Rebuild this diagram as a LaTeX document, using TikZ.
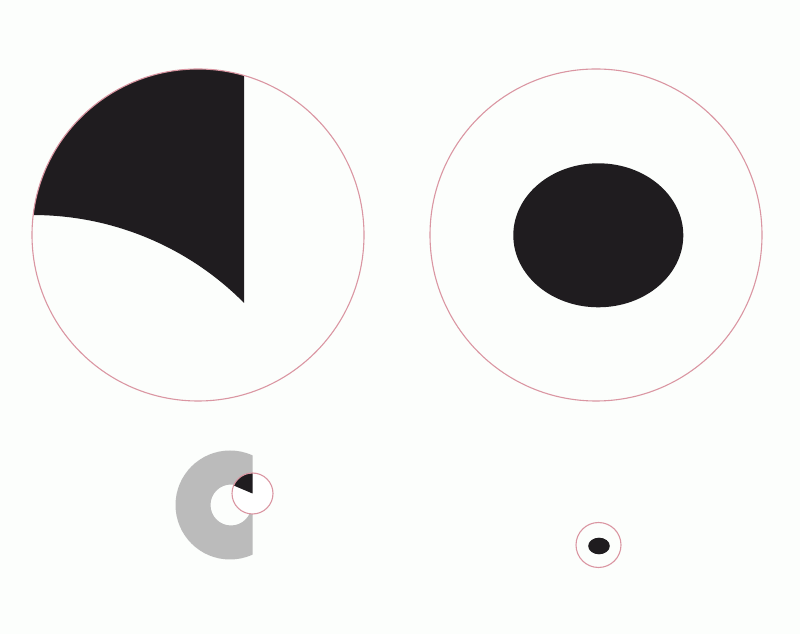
\documentclass[tikz,border=0pt]{standalone}
\definecolor{bgc}{RGB}{252,254,252}
\definecolor{ring}{RGB}{218,150,162}
\definecolor{ink}{RGB}{31,28,31}
\definecolor{greyc}{RGB}{187,187,187}
\tikzset{
  outline/.style={draw=ring, line width=1.1pt},
  blackfill/.style={fill=ink},
}
\begin{document}
\begin{tikzpicture}[x=1pt,y=1pt]
\fill[bgc] (0,0) rectangle (800,634);
\useasboundingbox (0,0) rectangle (800,634);
% top-left circle with black region
\fill[blackfill] (244,558.5) arc[start angle=73.9, end angle=173.1, radius=166]
  arc[start angle=90, end angle=44.76, radius=297] -- cycle;
\draw[outline] (198,399) circle[radius=166];
% top-right circle with ellipse
\fill[blackfill] (598.3,398.7) ellipse[x radius=85, y radius=72];
\draw[outline] (596,399) circle[radius=166];
% bottom-left C shape
\begin{scope}
  \clip (0,0) rectangle (252.5,634);
  \fill[fill=greyc, even odd rule] (230,129) circle[radius=54.5] (231,129) circle[radius=20.5];
\end{scope}
\fill[white] (252.5,140.5) circle[radius=20.5];
\fill[blackfill] (252.5,140.5) -- ++(90:20.5) arc[start angle=90, end angle=157, radius=20.5] -- cycle;
\draw[outline] (252.5,140.5) circle[radius=20.5];
% bottom-right small circle
\fill[blackfill] (599,88) ellipse[x radius=10.8, y radius=8.3];
\draw[outline] (598.5,89) circle[radius=22.5];
\end{tikzpicture}
\end{document}
